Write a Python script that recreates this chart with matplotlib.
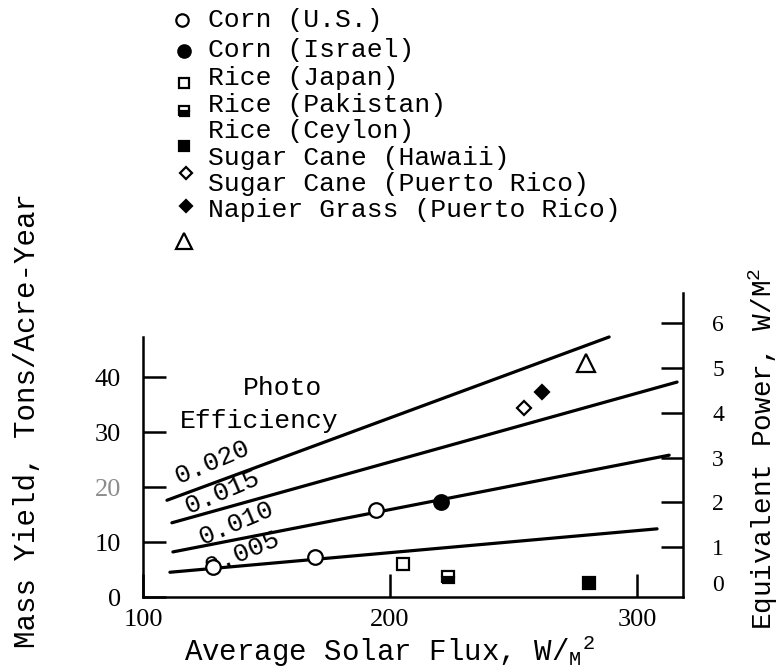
import matplotlib.pyplot as plt
from matplotlib.lines import Line2D

plt.rcParams["font.family"] = ["Liberation Mono", "DejaVu Sans"]

# photo-efficiency lines: flux (W/m2) and mass yield at each end
EFF_LABELS = ["0.020", "0.015", "0.010", "0.005"]
EFF_FLUX = [[109.7, 288.7], [111.7, 316.2], [112.1, 313.0], [110.9, 308.1]]
EFF_YIELD = [[17.6, 47.3], [13.5, 39.1], [8.2, 25.8], [4.5, 12.4]]

# measured crops
CROPS = [
    "Corn (U.S.)",
    "Corn (Israel)",
    "Rice (Japan)",
    "Rice (Pakistan)",
    "Rice (Ceylon)",
    "Sugar Cane (Hawaii)",
    "Sugar Cane (Puerto Rico)",
    "Napier Grass (Puerto Rico)",
]
CROP_FLUX = [[128.3, 169.6, 194.3], [220.6], [205.3], [223.5], [280.6], [254.3], [261.5], [279.4]]
CROP_YIELD = [[5.45, 7.27, 15.8], [17.3], [6.0], [3.6], [2.5], [34.4], [37.3], [42.5]]

LEFT_TICKS = [0, 10, 20, 30, 40]
X_TICKS = [100, 200, 300]
RIGHT_TICKS = [1, 2, 3, 4, 5, 6]

MARKERS = [
    dict(marker="o", ms=10.5, mfc="white"),
    dict(marker="o", ms=10.5, mfc="black"),
    dict(marker="s", ms=9, mfc="white"),
    dict(marker="s", ms=9, mfc="black", fillstyle="bottom", markerfacecoloralt="white"),
    dict(marker="s", ms=9, mfc="black"),
    dict(marker="D", ms=7.5, mfc="white"),
    dict(marker="D", ms=7.5, mfc="black"),
    dict(marker="^", ms=13, mfc="white"),
]

W, H = 781, 672
fig = plt.figure(figsize=(W / 100, H / 100), dpi=100)
ax = fig.add_axes([143 / W, 1 - 597 / H, 540 / W, 304 / H])
ax2 = ax.twinx()

for xs, ys in zip(EFF_FLUX, EFF_YIELD):
    ax.plot(xs, ys, color="black", linewidth=2.3, solid_capstyle="round", zorder=2)

for xs, ys, style in zip(CROP_FLUX, CROP_YIELD, MARKERS):
    ax.plot(xs, ys, linestyle="none", color="black", mec="black", mew=1.6, zorder=3, **style)

ax.set_xlim(100, 318.6)
ax.set_ylim(0, 55.3)
ax2.set_ylim(-0.11, 6.674)

ax.set_xticks(X_TICKS)
ax.set_yticks(LEFT_TICKS)
ax.tick_params(axis="both", direction="in", length=16.5, width=1.8,
               labelsize=19, labelfontfamily="Liberation Serif")
ax.tick_params(axis="y", pad=16)
ax.tick_params(axis="x", pad=9)
ax.get_yticklabels()[2].set_color("0.55")

ax2.set_yticks([0.2] + RIGHT_TICKS, labels=["0"] + [str(t) for t in RIGHT_TICKS])
ax2.tick_params(axis="y", direction="in", length=16, width=1.8, pad=21,
                labelsize=17, labelfontfamily="Liberation Serif")
ax2.yaxis.get_major_ticks()[0].tick2line.set_visible(False)

for side in ("top", "right"):
    ax.spines[side].set_visible(False)
for side in ("top", "left", "bottom"):
    ax2.spines[side].set_visible(False)
ax.spines["left"].set_bounds(0, 47.3)
for sp in (ax.spines["left"], ax.spines["bottom"], ax2.spines["right"]):
    sp.set_linewidth(1.8)

# efficiency annotations
ax.text(156.3, 38.0, "Photo", fontsize=19, ha="center", va="center")
ax.text(147.0, 32.0, "Efficiency", fontsize=19, ha="center", va="center")
label_pos = [(127.9, 24.5), (131.9, 19.1), (137.6, 13.5), (140.1, 8.0)]
for lab, (lx, ly) in zip(EFF_LABELS, label_pos):
    ax.text(lx, ly, lab, fontsize=19, rotation=23, rotation_mode="anchor",
            ha="center", va="center", zorder=1)

# axis titles
fig.text(184 / W, 1 - 651 / H, r"Average Solar Flux, W/$\mathregular{_M}$$\mathregular{^2}$",
         fontsize=21, ha="left", va="center")
fig.text(27 / W, 1 - 648 / H, "Mass Yield, Tons/Acre-Year", fontsize=21,
         rotation=90, ha="center", va="bottom")
fig.text(763 / W, 1 - 630 / H, r"Equivalent Power, W/M$\mathregular{^2}$",
         fontsize=20, rotation=90, ha="center", va="bottom")

# hand-set legend block
text_rows = [20, 50, 78, 105, 131, 158, 184, 210]
for name, row in zip(CROPS, text_rows):
    fig.text(208 / W, 1 - row / H, name, fontsize=19, ha="left", va="center")
marker_rows = [(182, 20), (184, 51), (184, 83), (184, 111), (184, 146), (186, 173), (186, 206), (184, 241)]
for style, (mx, my) in zip(MARKERS, marker_rows):
    st = dict(style)
    st["ms"] = st["ms"] * 0.85
    fig.add_artist(Line2D([mx / W], [1 - my / H], transform=fig.transFigure,
                          linestyle="none", color="black", mec="black", mew=1.6, **st))

fig.savefig("out.png", dpi=100)
